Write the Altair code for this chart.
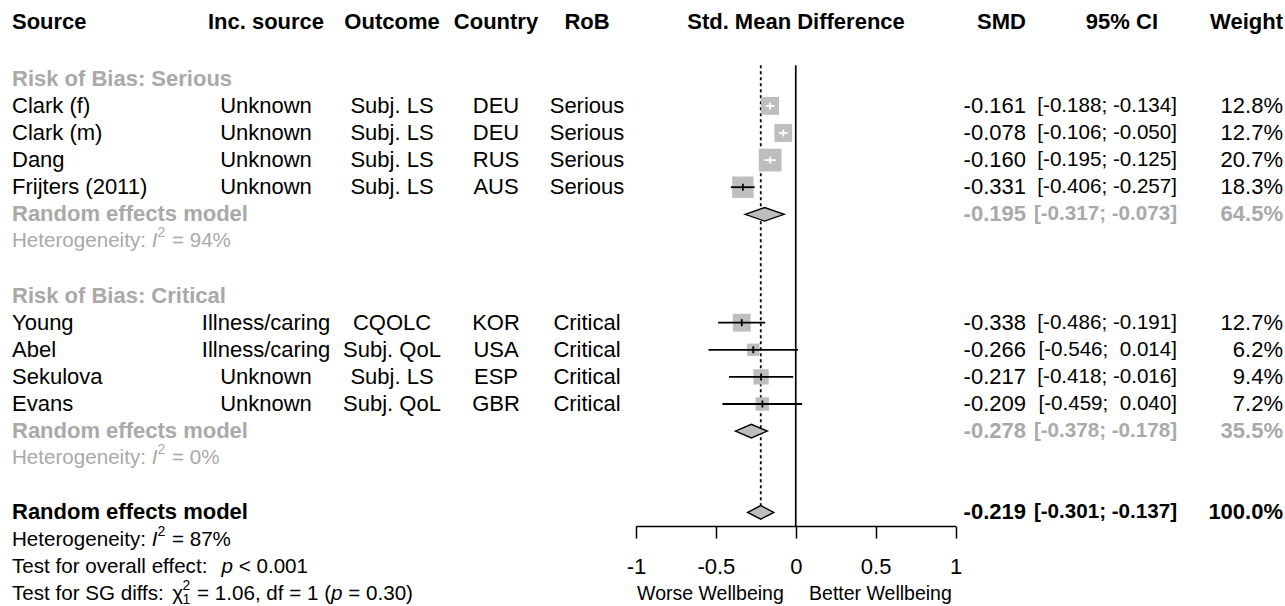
import altair as alt
import pandas as pd

# ---------------- data ----------------
study = ["Clark (f)", "Clark (m)", "Dang", "Frijters (2011)", "Young", "Abel", "Sekulova", "Evans"]
inc_source = ["Unknown", "Unknown", "Unknown", "Unknown", "Illness/caring", "Illness/caring", "Unknown", "Unknown"]
outcome = ["Subj. LS", "Subj. LS", "Subj. LS", "Subj. LS", "CQOLC", "Subj. QoL", "Subj. LS", "Subj. QoL"]
country = ["DEU", "DEU", "RUS", "AUS", "KOR", "USA", "ESP", "GBR"]
rob = ["Serious", "Serious", "Serious", "Serious", "Critical", "Critical", "Critical", "Critical"]
smd = [-0.161, -0.078, -0.160, -0.331, -0.338, -0.266, -0.217, -0.209]
ci_low = [-0.188, -0.106, -0.195, -0.406, -0.486, -0.546, -0.418, -0.459]
ci_high = [-0.134, -0.050, -0.125, -0.257, -0.191, 0.014, -0.016, 0.040]
weight = [12.8, 12.7, 20.7, 18.3, 12.7, 6.2, 9.4, 7.2]
study_row = [3, 4, 5, 6, 11, 12, 13, 14]

pooled_label = ["Random effects model", "Random effects model", "Random effects model"]
pooled_smd = [-0.195, -0.278, -0.219]
pooled_low = [-0.317, -0.378, -0.301]
pooled_high = [-0.073, -0.178, -0.137]
pooled_weight = [64.5, 35.5, 100.0]
pooled_row = [7, 15, 18]
pooled_is_overall = [False, False, True]

subgroup_title = ["Risk of Bias: Serious", "Risk of Bias: Critical"]
subgroup_title_row = [2, 10]

# statistic lines, as (text, style) pieces: r = regular, i = italic, sup / sub = raised / lowered small
het_serious = [("Heterogeneity: ", "r"), ("I", "i"), ("2", "sup"), (" = 94%", "r")]
het_critical = [("Heterogeneity: ", "r"), ("I", "i"), ("2", "sup"), (" = 0%", "r")]
het_overall = [("Heterogeneity: ", "r"), ("I", "i"), ("2", "sup"), (" = 87%", "r")]
test_overall = [("Test for overall effect:  ", "r"), ("p", "i"), (" < 0.001", "r")]
test_subgroup = [("Test for SG diffs: ", "r"), ("\u03c7", "r"), ("2", "sup"), ("1", "sub"),
                 (" = 1.06, df = 1 (", "r"), ("p", "i"), (" = 0.30)", "r")]
stat_lines = [het_serious, het_critical, het_overall, test_overall, test_subgroup]
stat_rows = [8, 16, 19, 20, 21]
stat_grey = [True, True, False, False, False]

headers_left = ["Source", "Inc. source", "Outcome", "Country", "RoB"]
header_mid = ["Std. Mean Difference"]
headers_right = ["SMD", "95% CI", "Weight"]

axis_ticks = [-1, -0.5, 0, 0.5, 1]
direction_labels = ["Worse Wellbeing", "Better Wellbeing"]
direction_at = [-0.534, 0.53]
direction_row = [21, 21]

ref_x = [0.0]
ref_rows = [1.5, 18.53]
overall_line_rows = [1.5, 17.74]

# ---------------- style / layout ----------------
FONT = "Liberation Sans"
FS = 22
FS_CI = 20.6
FS_STAT = 20.6
FS_DIR = 19.5
FS_SMALL = 14
GREY = "#A9A9A9"
BOX = "#BEBEBE"
ROW_Y0, ROW_H, LAST_ROW = 24.6, 27.1, 21
X_RANGE = [636.0, 955.5]
PX_PER_UNIT = (X_RANGE[1] - X_RANGE[0]) / 2.0
BOX_AREA_PER_PCT = 25.0
DIAMOND_HALF = 0.25

yscale = alt.Scale(domain=[0, LAST_ROW], range=[ROW_Y0, ROW_Y0 + LAST_ROW * ROW_H], nice=False, zero=False)
xscale = alt.Scale(domain=[-1, 1], range=X_RANGE, nice=False, zero=False)
Y = alt.Y("row:Q", scale=yscale, axis=None)

axis = alt.Axis(
    values=axis_ticks, orient="bottom", title=None, grid=False, format="~g",
    domainColor="black", domainWidth=1.5, tickColor="black", tickWidth=1.5, tickSize=12,
    labelFont=FONT, labelFontSize=FS, labelColor="black", labelPadding=28,
    labelBaseline="middle", labelFlush=False, labelOverlap=False,
    labelExpr="replace(datum.label, '\u2212', '-')",
)


def X(field, with_axis=False):
    return alt.X(field, scale=xscale, axis=axis if with_axis else None)


COL_SOURCE = 12
COL_INC = 266
COL_OUT = 392
COL_CTY = 496
COL_ROB = 587
COL_SMD = 1026
COL_CI = 1177
COL_CI_HEAD = 1158
COL_W = 1283
COL_MID = 796

# Arial / Liberation Sans advance widths (per 1000 em) used to place the mixed-style pieces
ADV = {" ": 278, "(": 333, ")": 333, "%": 889, ",": 278, ".": 278, ":": 278, "<": 584,
       "=": 584, "G": 778, "H": 722, "I": 278, "S": 667, "T": 611, "a": 556, "c": 500, "d": 556,
       "e": 556, "f": 278, "g": 556, "i": 222, "l": 222, "n": 556, "o": 556, "p": 556, "r": 333,
       "s": 500, "t": 278, "v": 500, "y": 500, "\u03c7": 500}


def text_width(s, size):
    return sum(ADV.get(ch, 556) for ch in s) * size / 1000.0


def fmt(v):
    s = f"{v:.3f}"
    return s if v < 0 else "\u00a0" + s


def ci_text(lo, hi):
    return "[" + fmt(lo) + "; " + fmt(hi) + "]"


studies = pd.DataFrame({
    "row": study_row, "study": study, "inc": inc_source, "outcome": outcome,
    "country": country, "rob": rob, "smd": smd, "lo": ci_low, "hi": ci_high, "w": weight,
})
studies["smd_txt"] = [f"{v:.3f}" for v in smd]
studies["ci_txt"] = [ci_text(a, b) for a, b in zip(ci_low, ci_high)]
studies["w_txt"] = [f"{v:.1f}%" for v in weight]
studies["area"] = [BOX_AREA_PER_PCT * v for v in weight]
studies["inside"] = [
    "in" if (b - a) * PX_PER_UNIT < (BOX_AREA_PER_PCT * v) ** 0.5 else "out"
    for a, b, v in zip(ci_low, ci_high, weight)
]

pooled = pd.DataFrame({
    "row": pooled_row, "label": pooled_label, "smd": pooled_smd, "lo": pooled_low,
    "hi": pooled_high, "w": pooled_weight, "overall": pooled_is_overall,
})
pooled["smd_txt"] = [f"{v:.3f}" for v in pooled_smd]
pooled["ci_txt"] = [ci_text(a, b) for a, b in zip(pooled_low, pooled_high)]
pooled["w_txt"] = [f"{v:.1f}%" for v in pooled_weight]
pooled_sub = pooled[~pooled["overall"]]
pooled_all = pooled[pooled["overall"]]

diamond_rows = []
for i, r in pooled.iterrows():
    diamond_rows.append({"g": i, "x": r["lo"], "y1": r["row"], "y2": r["row"]})
    diamond_rows.append({"g": i, "x": r["smd"], "y1": r["row"] - DIAMOND_HALF, "y2": r["row"] + DIAMOND_HALF})
    diamond_rows.append({"g": i, "x": r["hi"], "y1": r["row"], "y2": r["row"]})
diamonds = pd.DataFrame(diamond_rows)

titles = pd.DataFrame({"row": subgroup_title_row, "label": subgroup_title})
dirs = pd.DataFrame({"row": direction_row, "label": direction_labels, "x": direction_at})

# lay out the mixed-style statistic lines piece by piece
pieces = []
for parts, row, grey in zip(stat_lines, stat_rows, stat_grey):
    cursor = 0.0
    prev_small = None
    for txt, style in parts:
        size = FS_SMALL if style in ("sup", "sub") else FS_STAT
        start = prev_small if (style == "sub" and prev_small is not None) else cursor
        lead = len(txt) - len(txt.lstrip(" "))
        shown = txt.strip(" ")
        pieces.append({"row": row, "label": shown, "style": style,
                       "offset": start + text_width(" " * lead, size), "grey": grey})
        w = text_width(txt, size)
        if style == "sup":
            prev_small = start
            cursor = start + w + 1
        elif style == "sub":
            cursor = max(cursor, start + w + 1)
            prev_small = None
        else:
            cursor = start + w
            prev_small = None
pieces = pd.DataFrame(pieces)


def text_layer(df, field, x, align, color="black", bold=False, size=FS, dy=0, italic=False):
    return alt.Chart(df).mark_text(
        align=align, baseline="middle", font=FONT, fontSize=size, dy=dy,
        fontWeight="bold" if bold else "normal", fontStyle="italic" if italic else "normal",
        color=color,
    ).encode(x=alt.value(x), y=Y, text=alt.Text(f"{field}:N"))


def header_layer(label, x, align):
    df = pd.DataFrame({"row": [0], "label": [label]})
    return text_layer(df, "label", x, align, bold=True, dy=-3)


PIECE_STYLE = {"r": dict(size=FS_STAT, dy=0, italic=False), "i": dict(size=FS_STAT, dy=0, italic=True),
               "sup": dict(size=FS_SMALL, dy=-8, italic=False), "sub": dict(size=FS_SMALL, dy=6, italic=False)}
piece_scale = alt.Scale(domain=[0, 1], range=[COL_SOURCE, COL_SOURCE + 1], nice=False, zero=False)


def piece_layers(df):
    out = []
    for style, st in PIECE_STYLE.items():
        for grey in (True, False):
            sub = df[(df["style"] == style) & (df["grey"] == grey)]
            if len(sub) == 0:
                continue
            out.append(alt.Chart(sub).mark_text(
                align="left", baseline="middle", font=FONT, fontSize=st["size"], dy=st["dy"],
                fontStyle="italic" if st["italic"] else "normal", color=GREY if grey else "black",
            ).encode(x=alt.X("offset:Q", scale=piece_scale, axis=None), y=Y, text="label:N"))
    return out


layers = []

# reference lines
ref_df = pd.DataFrame({"x": ref_x, "r1": [ref_rows[0]], "r2": [ref_rows[1]]})
layers.append(alt.Chart(ref_df).mark_rule(color="black", strokeWidth=1.7).encode(
    x=X("x:Q"), y=alt.Y("r1:Q", scale=yscale, axis=None), y2="r2:Q"))
ov_df = pd.DataFrame({"x": [pooled_smd[2]], "r1": [overall_line_rows[0]], "r2": [overall_line_rows[1]]})
layers.append(alt.Chart(ov_df).mark_rule(color="black", strokeWidth=1.8, strokeDash=[3, 3]).encode(
    x=X("x:Q"), y=alt.Y("r1:Q", scale=yscale, axis=None), y2="r2:Q"))

# squares (carry the x axis), CI lines, centre ticks
layers.append(alt.Chart(studies).mark_square(color=BOX, opacity=1, filled=True).encode(
    x=X("smd:Q", with_axis=True), y=Y, size=alt.Size("area:Q", scale=None)))

inside_color = alt.Color("inside:N", scale=alt.Scale(domain=["in", "out"], range=["white", "black"]), legend=None)
layers.append(alt.Chart(studies).mark_rule(strokeWidth=1.8).encode(
    x=X("lo:Q"), x2="hi:Q", y=Y, color=inside_color))
layers.append(alt.Chart(studies).mark_point(shape="M0,-1L0,1", size=49, filled=False, strokeWidth=1.8, opacity=1).encode(
    x=X("smd:Q"), y=Y, color=inside_color))

# diamonds
layers.append(alt.Chart(diamonds).mark_area(fill=BOX, stroke="black", strokeWidth=1.4, opacity=1).encode(
    x=X("x:Q"), y=alt.Y("y1:Q", scale=yscale, axis=None), y2="y2:Q", detail="g:N"))

# direction labels under the axis
layers.append(alt.Chart(dirs).mark_text(align="center", baseline="middle", font=FONT, fontSize=FS_DIR, color="black").encode(
    x=X("x:Q"), y=Y, text="label:N"))

# headers
for lab, x, al in zip(headers_left, [COL_SOURCE, COL_INC, COL_OUT, COL_CTY, COL_ROB],
                      ["left", "center", "center", "center", "center"]):
    layers.append(header_layer(lab, x, al))
layers.append(header_layer(header_mid[0], COL_MID, "center"))
for lab, x in zip(headers_right, [COL_SMD, COL_CI_HEAD, COL_W]):
    layers.append(header_layer(lab, x, "right"))

# study rows
layers.append(text_layer(studies, "study", COL_SOURCE, "left"))
layers.append(text_layer(studies, "inc", COL_INC, "center"))
layers.append(text_layer(studies, "outcome", COL_OUT, "center"))
layers.append(text_layer(studies, "country", COL_CTY, "center"))
layers.append(text_layer(studies, "rob", COL_ROB, "center"))
layers.append(text_layer(studies, "smd_txt", COL_SMD, "right"))
layers.append(text_layer(studies, "ci_txt", COL_CI, "right", size=FS_CI))
layers.append(text_layer(studies, "w_txt", COL_W, "right"))

# subgroup rows
layers.append(text_layer(titles, "label", COL_SOURCE, "left", GREY, True))
layers.append(text_layer(pooled_sub, "label", COL_SOURCE, "left", GREY, True))
layers.append(text_layer(pooled_sub, "smd_txt", COL_SMD, "right", GREY, True))
layers.append(text_layer(pooled_sub, "ci_txt", COL_CI, "right", GREY, True, size=FS_CI))
layers.append(text_layer(pooled_sub, "w_txt", COL_W, "right", GREY, True))

# overall rows
layers.append(text_layer(pooled_all, "label", COL_SOURCE, "left", "black", True))
layers.append(text_layer(pooled_all, "smd_txt", COL_SMD, "right", "black", True))
layers.append(text_layer(pooled_all, "ci_txt", COL_CI, "right", "black", True, size=FS_CI))
layers.append(text_layer(pooled_all, "w_txt", COL_W, "right", "black", True))

# heterogeneity and test lines
layers.extend(piece_layers(pieces))

chart = alt.layer(*layers).resolve_scale(x="independent").properties(
    width=1285, height=526,
    autosize=alt.AutoSizeParams(type="none"),
    padding={"left": 0, "top": 0, "right": 0, "bottom": 80},
    background="white",
).configure_view(stroke=None)

chart.save("out.html", embed_options={"renderer": "svg", "actions": False})
